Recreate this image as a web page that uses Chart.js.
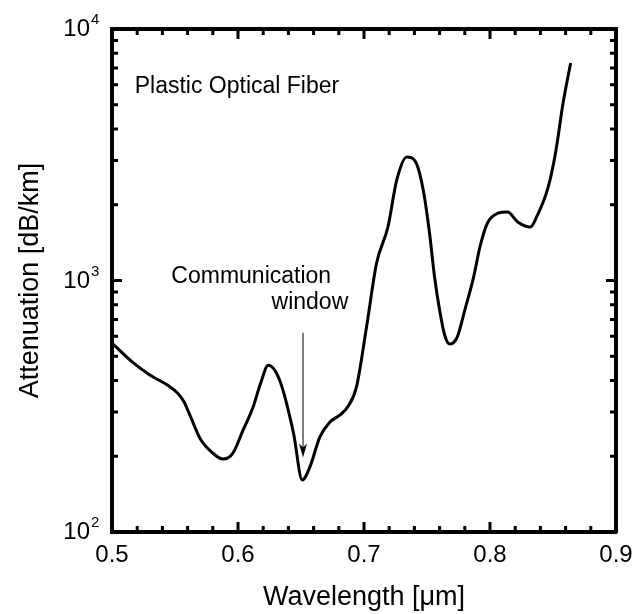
<!DOCTYPE html>
<html>
<head>
<meta charset="utf-8">
<script src="https://cdn.jsdelivr.net/npm/chart.js@4"></script>
<style>
  html, body { margin: 0; padding: 0; background: #fff; }
</style>
</head>
<body>
<canvas id="grafico" width="633" height="614"></canvas>
<script>
// dados
const wavelength = [0.500, 0.517, 0.530, 0.544, 0.552, 0.557, 0.562, 0.570, 0.580, 0.588, 0.596,
  0.604, 0.612, 0.618, 0.624, 0.633, 0.644, 0.651, 0.657, 0.665, 0.673,
  0.681, 0.687, 0.694, 0.702, 0.710, 0.719, 0.726, 0.734, 0.741, 0.747,
  0.752, 0.756, 0.760, 0.764, 0.768, 0.774, 0.780, 0.787, 0.792, 0.798,
  0.806, 0.814, 0.822, 0.832, 0.837, 0.846, 0.852, 0.858, 0.864];
const attenuation = [564, 470, 421, 384, 357, 330, 290, 235, 206, 195, 206,
  254, 314, 391, 460, 402, 248, 161, 181, 239, 274,
  292, 314, 377, 653, 1174, 1632, 2510, 3098, 2960, 2291,
  1545, 1032, 763, 607, 559, 596, 763, 1032, 1359, 1693,
  1850, 1872, 1709, 1632, 1789, 2333, 3214, 5078, 7325];

const xTickLabels = ["0.5", "0.6", "0.7", "0.8", "0.9"];
const yDecades = [100, 1000, 10000];
const yExpoentes = ["2", "3", "4"];

const fonte = "'Liberation Sans', Arial, sans-serif";

// ticks para dentro, rotulos 10^n e anotacoes
const extras = {
  id: "extras",
  afterDraw(chart) {
    const ctx = chart.ctx;
    const a = chart.chartArea;
    const sx = chart.scales.x;
    const sy = chart.scales.y;
    ctx.save();
    ctx.strokeStyle = "#000";
    ctx.lineWidth = 3;
    ctx.beginPath();
    for (let i = 0; i <= 20; i++) {
      const px = sx.getPixelForValue(0.5 + i * 0.02);
      const len = i % 5 === 0 ? 10 : 6;
      ctx.moveTo(px, a.bottom); ctx.lineTo(px, a.bottom - len);
      ctx.moveTo(px, a.top); ctx.lineTo(px, a.top + len);
    }
    for (let d = 0; d < yDecades.length - 1; d++) {
      for (let m = 1; m <= 9; m++) {
        const py = sy.getPixelForValue(yDecades[d] * m);
        const len = m === 1 ? 10 : 6;
        ctx.moveTo(a.left, py); ctx.lineTo(a.left + len, py);
        ctx.moveTo(a.right, py); ctx.lineTo(a.right - len, py);
      }
    }
    ctx.stroke();

    ctx.fillStyle = "#000";
    ctx.textBaseline = "alphabetic";
    yDecades.forEach(function (v, i) {
      const py = sy.getPixelForValue(v);
      ctx.font = "24px " + fonte;
      ctx.textAlign = "right";
      ctx.fillText("10", 90, py + 7);
      ctx.font = "15px " + fonte;
      ctx.textAlign = "left";
      ctx.fillText(yExpoentes[i], 91, py - 5);
    });

    ctx.font = "23px " + fonte;
    ctx.textAlign = "left";
    ctx.fillText("Plastic Optical Fiber", sx.getPixelForValue(0.518), sy.getPixelForValue(6000) + 8);
    ctx.textAlign = "center";
    ctx.fillText("Communication", sx.getPixelForValue(0.6105), sy.getPixelForValue(1000) + 2);
    ctx.textAlign = "right";
    ctx.fillText("window", sx.getPixelForValue(0.6875), sy.getPixelForValue(1000) + 28);

    // seta
    const ax = sx.getPixelForValue(0.6516);
    const y0 = sy.getPixelForValue(620);
    const y1 = sy.getPixelForValue(198);
    ctx.lineWidth = 1;
    ctx.beginPath();
    ctx.moveTo(ax, y0); ctx.lineTo(ax, y1 - 8);
    ctx.stroke();
    ctx.beginPath();
    ctx.moveTo(ax, y1);
    ctx.lineTo(ax - 4, y1 - 14);
    ctx.lineTo(ax, y1 - 10);
    ctx.lineTo(ax + 4, y1 - 14);
    ctx.closePath();
    ctx.fill();
    ctx.restore();
  }
};

function semPadding(s) {
  s.paddingLeft = 0; s.paddingRight = 0; s.paddingTop = 0; s.paddingBottom = 0;
}

const pontos = wavelength.map(function (w, i) { return { x: w, y: attenuation[i] }; });

const borda = { display: true, color: "#000", width: 4 };

new Chart(document.getElementById("grafico"), {
  type: "line",
  data: {
    datasets: [{
      data: pontos,
      borderColor: "#000",
      borderWidth: 3,
      pointRadius: 0,
      fill: false,
      cubicInterpolationMode: "monotone"
    }]
  },
  options: {
    responsive: false,
    animation: false,
    devicePixelRatio: 1,
    layout: { padding: { top: 29, right: 17, bottom: 0, left: 0 } },
    plugins: { legend: { display: false }, tooltip: { enabled: false } },
    scales: {
      x: {
        type: "linear",
        position: "bottom",
        min: 0.5,
        max: 0.9,
        border: borda,
        grid: { display: false, drawTicks: false },
        ticks: {
          stepSize: 0.1,
          autoSkip: false,
          maxRotation: 0,
          padding: 9,
          color: "#000",
          font: { family: fonte, size: 24 },
          callback: function (v) {
            const i = Math.round((v - 0.5) * 10);
            return xTickLabels[i] !== undefined ? xTickLabels[i] : "";
          }
        },
        title: {
          display: true,
          text: "Wavelength [μm]",
          color: "#000",
          font: { family: fonte, size: 27, lineHeight: 1.2 },
          padding: { top: 0, bottom: 0 }
        },
        afterFit: function (s) { s.height = 82; semPadding(s); }
      },
      x2: {
        type: "linear",
        position: "top",
        min: 0.5,
        max: 0.9,
        border: borda,
        grid: { display: false, drawTicks: false },
        ticks: { display: false },
        afterFit: function (s) { s.height = 0; semPadding(s); }
      },
      y: {
        type: "logarithmic",
        position: "left",
        min: 100,
        max: 10000,
        border: borda,
        grid: { display: false, drawTicks: false },
        ticks: { display: false },
        title: {
          display: true,
          text: "Attenuation [dB/km]",
          color: "#000",
          font: { family: fonte, size: 27, lineHeight: 1.2 },
          padding: { top: 14, bottom: 0 }
        },
        afterFit: function (s) { s.width = 112; semPadding(s); }
      },
      y2: {
        type: "logarithmic",
        position: "right",
        min: 100,
        max: 10000,
        border: borda,
        grid: { display: false, drawTicks: false },
        ticks: { display: false },
        afterFit: function (s) { s.width = 0; semPadding(s); }
      }
    }
  },
  plugins: [extras]
});
</script>
</body>
</html>
